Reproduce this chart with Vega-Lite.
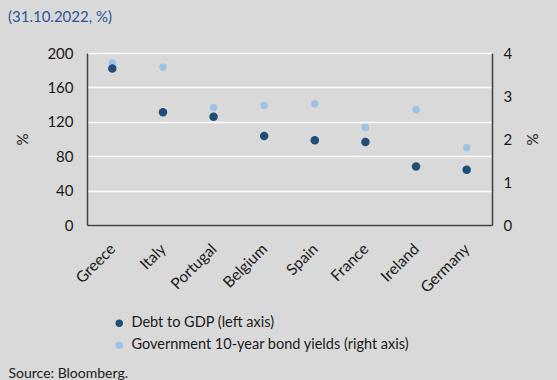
{
  "$schema": "https://vega.github.io/schema/vega-lite/v6.json",
  "autosize": {"type": "none"},
  "width": 405,
  "height": 172,
  "padding": {"left": 87, "top": 53, "right": 65, "bottom": 155},
  "background": "#D9D9D9",
  "config": {
    "font": "Lato",
    "view": {"fill": "#D9D9D9", "stroke": null},
    "axis": {"labelFont": "Lato", "titleFont": "Lato", "labelColor": "#1a1a1a", "titleColor": "#1a1a1a"}
  },
  "title": {
    "text": "(31.10.2022, %)",
    "anchor": "start",
    "frame": "group",
    "dx": -79,
    "offset": 21,
    "fontSize": 15,
    "fontWeight": "normal",
    "color": "#2F5597",
    "font": "Lato"
  },
  "data": {
    "values": [
      {"country": "Greece", "debt": 182, "yield": 3.77},
      {"country": "Italy", "debt": 131, "yield": 3.67},
      {"country": "Portugal", "debt": 126, "yield": 2.73},
      {"country": "Belgium", "debt": 103.5, "yield": 2.78},
      {"country": "Spain", "debt": 98.5, "yield": 2.82},
      {"country": "France", "debt": 96.5, "yield": 2.27},
      {"country": "Ireland", "debt": 68, "yield": 2.68},
      {"country": "Germany", "debt": 64.3, "yield": 1.8}
    ]
  },
  "encoding": {
    "x": {
      "field": "country",
      "type": "nominal",
      "sort": null,
      "scale": {"paddingInner": 0, "paddingOuter": 0},
      "axis": {
        "title": "Source: Bloomberg.",
        "titleX": -79,
        "titleY": 152,
        "titleAlign": "left",
        "titleBaseline": "alphabetic",
        "titleFontSize": 14,
        "titleFontWeight": "normal",
        "labelAngle": -45,
        "labelAlign": "right",
        "labelBaseline": "middle",
        "labelFontSize": 15.5,
        "labelPadding": 21,
        "ticks": false,
        "domainColor": "#404040",
        "domainWidth": 1.5,
        "grid": false
      }
    }
  },
  "layer": [
    {
      "mark": {"type": "circle", "size": 55, "opacity": 1},
      "encoding": {
        "y": {
          "field": "yield",
          "type": "quantitative",
          "scale": {"domain": [0, 4]},
          "axis": {
            "orient": "right",
            "title": "%",
            "titleFontSize": 15,
            "titleFontWeight": "normal",
            "titlePadding": 12,
            "values": [0, 1, 2, 3, 4],
            "labelFontSize": 15,
            "labelPadding": 11,
            "ticks": false,
            "grid": false,
            "domainColor": "#404040",
            "domainWidth": 1.5
          }
        },
        "color": {
          "datum": "Government 10-year bond yields (right axis)",
          "type": "nominal"
        }
      }
    },
    {
      "mark": {"type": "circle", "size": 72, "opacity": 1},
      "encoding": {
        "y": {
          "field": "debt",
          "type": "quantitative",
          "scale": {"domain": [0, 200]},
          "axis": {
            "orient": "left",
            "title": "%",
            "titleFontSize": 15,
            "titleFontWeight": "normal",
            "titlePadding": 16,
            "values": [0, 40, 80, 120, 160, 200],
            "labelFontSize": 15,
            "labelPadding": 14,
            "ticks": false,
            "grid": true,
            "gridColor": "#FFFFFF",
            "gridWidth": 1.5,
            "domainColor": "#404040",
            "domainWidth": 1.5
          }
        },
        "color": {
          "datum": "Debt to GDP (left axis)",
          "type": "nominal",
          "scale": {
            "domain": ["Debt to GDP (left axis)", "Government 10-year bond yields (right axis)"],
            "range": ["#1F4E79", "#9DC3E6"]
          },
          "legend": {
            "orient": "none",
            "legendX": 25,
            "legendY": 263,
            "direction": "vertical",
            "title": null,
            "symbolType": "circle",
            "symbolSize": 55,
            "symbolOpacity": 1,
            "labelFontSize": 14.5,
            "labelLimit": 0,
            "labelColor": "#1a1a1a",
            "rowPadding": 7,
            "labelOffset": 5
          }
        }
      }
    }
  ],
  "resolve": {"scale": {"y": "independent"}}
}
